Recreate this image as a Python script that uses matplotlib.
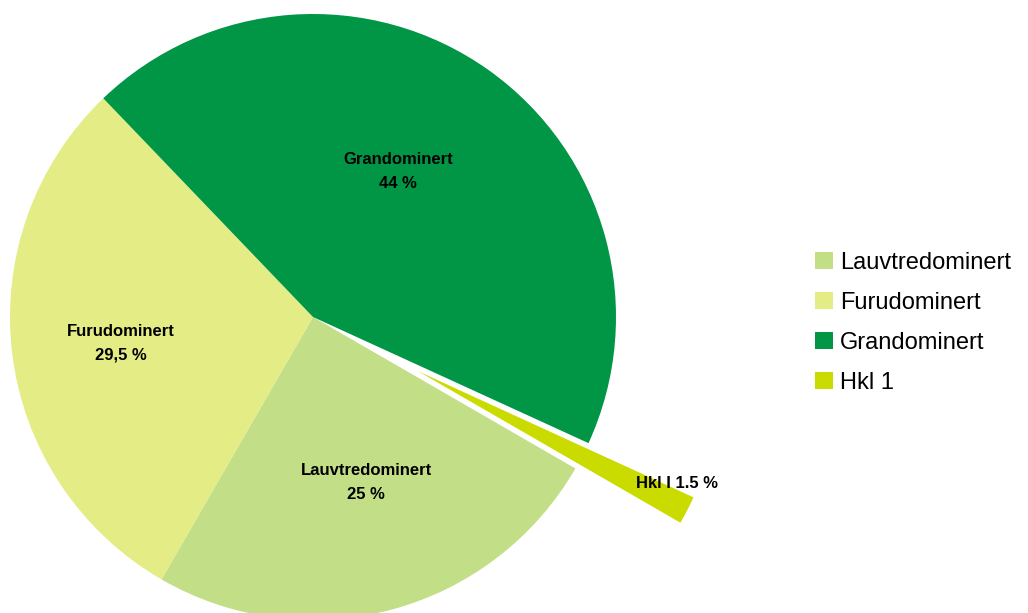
import matplotlib
matplotlib.use("Agg")
import matplotlib.pyplot as plt

plt.rcParams['font.family'] = ['Liberation Sans', 'DejaVu Sans']

categories = ['Lauvtredominert', 'Furudominert', 'Grandominert', 'Hkl 1']
shares = [25, 29.5, 44, 1.5]
slice_labels = ['Lauvtredominert\n25 %', 'Furudominert\n29,5 %', 'Grandominert\n44 %', 'Hkl I 1.5 %']
colors = ['#C2DF87', '#E4EC86', '#009646', '#CADB00']
explode = [0, 0, 0, 0.39]

# where the slice labels sit, in pie units (radius 1)
label_pos = [(0.175, -0.545), (-0.634, -0.086), (0.28, 0.48), (1.20, -0.548)]

W, H = 1028, 613
fig = plt.figure(figsize=(W / 100, H / 100), dpi=100)

# pie centre ~ (313, 317) px, radius ~303 px
cx, cy, r = 313, 317, 303
ax = fig.add_axes([(cx - r) / W, (H - cy - r) / H, 2 * r / W, 2 * r / H])

wedges, _ = ax.pie(shares, colors=colors, explode=explode, startangle=-30,
                   counterclock=False, radius=1, frame=False,
                   wedgeprops=dict(linewidth=0))
for w in wedges:
    w.set_clip_on(False)
ax.set_xlim(-1, 1)
ax.set_ylim(-1, 1)
ax.set_aspect('equal')
ax.axis('off')

for (x, y), txt in zip(label_pos, slice_labels):
    t = ax.text(x, y, txt, ha='center', va='center', fontsize=12,
                fontweight='bold', linespacing=1.75)
    t.set_clip_on(False)

fig.legend(wedges, categories, loc='upper left',
           bbox_to_anchor=(815 / W, 1 - 252 / H), frameon=False,
           fontsize=17, handlelength=0.76, handleheight=0.76,
           handletextpad=0.3, labelspacing=0.76,
           borderpad=0, borderaxespad=0)

fig.savefig('out.png', dpi=100)
